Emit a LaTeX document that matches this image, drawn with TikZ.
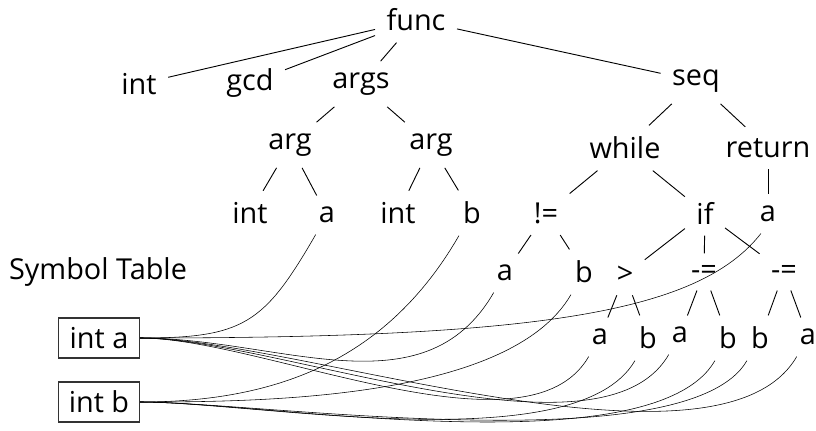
\documentclass[tikz,border=0pt]{standalone}
\usepackage{fontspec}
\setmainfont{Open Sans}
\usepackage{tikz}
\usetikzlibrary{positioning}
\tikzstyle{tok}=[inner sep=8pt,font=\fontsize{20.5}{24}\selectfont]
\tikzstyle{sym}=[draw,rectangle,line width=0.9pt,draw=black!80,minimum width=2.03cm,minimum height=1cm,inner sep=0pt,font=\fontsize{20.5}{24}\selectfont]
\tikzstyle{branch}=[line width=0.65pt]
\tikzstyle{ref}=[line width=0.65pt,out=0,in=-120]

\begin{document}
\begin{tikzpicture}[x=0.025cm,y=0.025cm]
\useasboundingbox (0,0) rectangle (816,-430);
\node[tok] (func) at (416,-20) {func};
\node[tok] (tint) at (139,-84) {int};
\node[tok] (gcd) at (250,-83) {gcd};
\node[tok] (args) at (361,-84) {args};
\node[tok] (seq) at (696,-81) {seq};
\node[tok] (argA) at (290,-145) {arg};
\node[tok] (argB) at (431,-145) {arg};
\node[tok] (whl) at (625,-148) {while};
\node[tok] (ret) at (768,-148) {return};
\node[tok] (intA) at (250,-213) {int};
\node[tok] (aA) at (327,-215) {a};
\node[tok] (intB) at (398,-213) {int};
\node[tok] (bB) at (472,-213) {b};
\node[tok] (neq) at (546,-213) {!=};
\node[tok] (iff) at (705,-213) {if};
\node[tok] (retA) at (768,-214) {a};
\node[tok] (neqA) at (505,-273) {a};
\node[tok] (neqB) at (584,-272) {b};
\node[tok] (gt) at (625,-275) {>};
\node[tok] (decA) at (704,-272) {-=};
\node[tok] (decB) at (784,-272) {-=};
\node[tok] (gtA) at (600,-337) {a};
\node[tok] (gtB) at (648,-338) {b};
\node[tok] (decAa) at (680,-335) {a};
\node[tok] (decAb) at (728,-338) {b};
\node[tok] (decBb) at (760,-338) {b};
\node[tok] (decBa) at (808,-337) {a};
\node[tok] (symtab) at (98,-272) {Symbol Table};
\node[sym] (inta) at (99,-338) {int a};
\node[sym] (intb) at (99,-402) {int b};
%tree
\draw[branch] (func) -- (tint);
\draw[branch] (func) -- (gcd);
\draw[branch] (func) -- (args);
\draw[branch] (func) -- (seq);
\draw[branch] (args) -- (argA);
\draw[branch] (args) -- (argB);
\draw[branch] (argA) -- (intA);
\draw[branch] (argA) -- (aA);
\draw[branch] (argB) -- (intB);
\draw[branch] (argB) -- (bB);
\draw[branch] (seq) -- (whl);
\draw[branch] (seq) -- (ret);
\draw[branch] (whl) -- (neq);
\draw[branch] (whl) -- (iff);
\draw[branch] (ret) -- (retA);
\draw[branch] (neq) -- (neqA);
\draw[branch] (neq) -- (neqB);
\draw[branch] (iff) -- (gt);
\draw[branch] (iff) -- (decA);
\draw[branch] (iff) -- (decB);
\draw[branch] (gt) -- (gtA);
\draw[branch] (gt) -- (gtB);
\draw[branch] (decA) -- (decAa);
\draw[branch] (decA) -- (decAb);
\draw[branch] (decB) -- (decBb);
\draw[branch] (decB) -- (decBa);
%symbol links
\draw (inta.east) to[ref,looseness=1.3] (aA.-120);
\draw (inta.east) to[ref,in=-128,out distance=10cm,in distance=2.5cm] (retA.-110);
\draw (inta.east) to[ref] (neqA.-120);
\draw (inta.east) to[ref,looseness=0.7] (gtA.-120);
\draw (inta.east) to[ref,looseness=0.65] (decAa.-120);
\draw (inta.east) to[ref,looseness=0.6] (decBa.-120);
\draw (intb.east) to[ref] (bB.-120);
\draw (intb.east) to[ref,looseness=0.7] (neqB.-120);
\draw (intb.east) to[ref,looseness=0.6] (gtB.-120);
\draw (intb.east) to[ref,looseness=0.55] (decAb.-120);
\draw (intb.east) to[ref,looseness=0.5] (decBb.-120);
\end{tikzpicture}
\end{document}
